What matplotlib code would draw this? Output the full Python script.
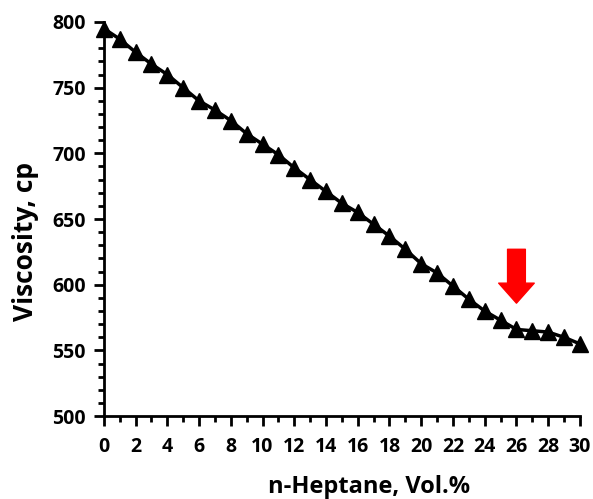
import matplotlib.pyplot as plt
from matplotlib.ticker import MultipleLocator

# n-heptane content (vol.%) and measured viscosity (cp)
heptane = list(range(0, 31))
viscosity = [795, 787, 777, 768, 760, 750, 740, 733, 725, 715,
             707, 699, 689, 680, 671, 662, 655, 646, 637, 627,
             616, 609, 599, 589, 580, 573, 566, 565, 564, 560, 555]

arrow_x = 26
arrow_top = 627
arrow_tip = 586

plt.rcParams['font.family'] = ['Open Sans', 'DejaVu Sans']
plt.rcParams['font.weight'] = 'bold'

fig = plt.figure(figsize=(5.93, 4.99), dpi=100)
ax = fig.add_axes([0.175, 0.166, 0.803, 0.79])

ax.plot(heptane, viscosity, color='black', linewidth=2.5,
        marker='^', markersize=11, clip_on=False)

# red arrow pointing at the change in slope
ax.annotate('', xy=(arrow_x, arrow_tip), xytext=(arrow_x, arrow_top),
            arrowprops=dict(arrowstyle='simple,head_width=1.6,head_length=0.9,tail_width=0.8',
                            color='red', shrinkA=0, shrinkB=0, mutation_scale=16))

ax.set_xlim(0, 30)
ax.set_ylim(500, 800)
ax.xaxis.set_major_locator(MultipleLocator(2))
ax.xaxis.set_minor_locator(MultipleLocator(1))
ax.yaxis.set_major_locator(MultipleLocator(50))
ax.yaxis.set_minor_locator(MultipleLocator(10))

for side in ['top', 'right']:
    ax.spines[side].set_visible(False)
for side in ['left', 'bottom']:
    ax.spines[side].set_linewidth(2)

ax.tick_params(which='major', length=7, width=2, labelsize=14)
ax.tick_params(axis='x', which='major', pad=8)
ax.tick_params(axis='y', which='major', pad=6)
ax.tick_params(which='minor', length=4, width=2)
for lab in ax.get_xticklabels() + ax.get_yticklabels():
    lab.set_fontweight('bold')

ax.set_xlabel('n-Heptane, Vol.%', fontsize=17, fontweight='bold')
ax.set_ylabel('Viscosity, cp', fontsize=19, fontweight='bold')
ax.xaxis.set_label_coords(0.558, -0.15)
ax.yaxis.set_label_coords(-0.137, 0.444)

fig.savefig('out.png', dpi=100)
